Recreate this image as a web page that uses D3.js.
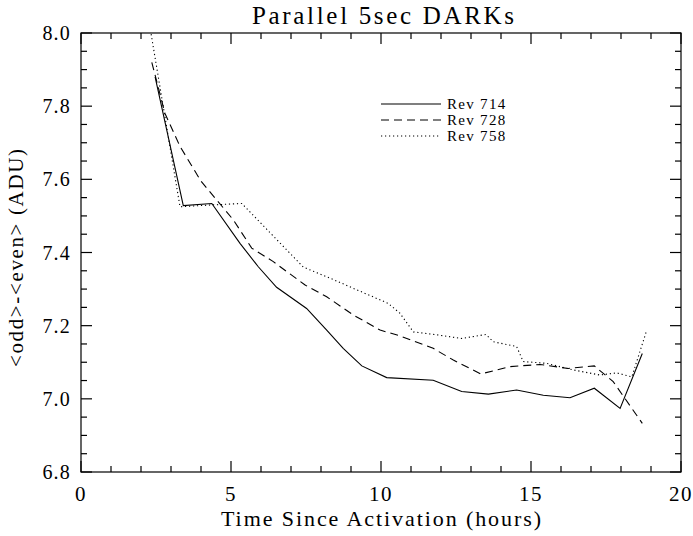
<!DOCTYPE html>
<html>
<head>
<meta charset="utf-8">
<script src="https://cdn.jsdelivr.net/npm/d3@7"></script>
<style>
  body { margin: 0; background: #fff; }
  svg { display: block; }
  text { font-family: "Liberation Serif", serif; fill: #000; }
</style>
</head>
<body>
<svg id="chart"></svg>
<script>
// hours since activation, <odd>-<even> in ADU
const rev714 = [
  [2.47, 7.88], [3.41, 7.528], [4.36, 7.534], [5.3, 7.425], [5.91, 7.361],
  [6.52, 7.305], [7.52, 7.247], [8.19, 7.188], [8.74, 7.138], [9.36, 7.09],
  [10.19, 7.058], [11.74, 7.051], [12.69, 7.02], [13.58, 7.013], [14.52, 7.024],
  [15.41, 7.01], [16.3, 7.003], [17.11, 7.029], [17.97, 6.974], [18.71, 7.124]
];
const rev728 = [
  [2.36, 7.92], [2.8, 7.78], [3.3, 7.69], [4.0, 7.595], [5.08, 7.489],
  [5.69, 7.412], [6.41, 7.375], [7.47, 7.311], [8.19, 7.279], [9.08, 7.229],
  [9.97, 7.188], [10.63, 7.172], [11.74, 7.138], [12.41, 7.106], [13.33, 7.068],
  [14.3, 7.088], [15.3, 7.094], [16.24, 7.083], [17.11, 7.09], [17.74, 7.047],
  [18.71, 6.933]
];
const rev758 = [
  [2.25, 8.04], [3.3, 7.525], [4.36, 7.53], [5.36, 7.534], [7.41, 7.36],
  [8.3, 7.33], [9.19, 7.298], [10.24, 7.261], [10.63, 7.234], [11.08, 7.183],
  [11.86, 7.175], [12.69, 7.165], [13.5, 7.176], [13.74, 7.156], [14.52, 7.143],
  [14.74, 7.102], [15.52, 7.097], [16.41, 7.079], [17.3, 7.065], [17.86, 7.071],
  [18.36, 7.06], [18.86, 7.188]
];
const seriesNames = ['Rev 714', 'Rev 728', 'Rev 758'];
const xTickLabels = [0, 5, 10, 15, 20];
const yTickLabels = [6.8, 7.0, 7.2, 7.4, 7.6, 7.8, 8.0];

const width = 693, height = 536;
const margin = {left: 81, right: 681, top: 33, bottom: 472};
const majorLen = 11, minorLen = 6;

const svg = d3.select('#chart').attr('width', width).attr('height', height);

const x = d3.scaleLinear().domain([0, 20]).range([margin.left, margin.right]);
const y = d3.scaleLinear().domain([6.8, 8.0]).range([margin.bottom, margin.top]);

svg.append('defs').append('clipPath').attr('id', 'plotclip')
  .append('rect')
  .attr('x', margin.left).attr('y', margin.top)
  .attr('width', margin.right - margin.left).attr('height', margin.bottom - margin.top);

// frame
svg.append('rect')
  .attr('x', margin.left).attr('y', margin.top)
  .attr('width', margin.right - margin.left).attr('height', margin.bottom - margin.top)
  .attr('fill', 'none').attr('stroke', '#000').attr('stroke-width', 1.2);

// ticks on all four sides, pointing in
const xMinor = d3.range(0, 21, 1);
const yMinor = d3.range(0, 25).map((i) => 6.8 + i * 0.05);

const ticks = svg.append('g').attr('stroke', '#000').attr('stroke-width', 1.2);
xMinor.forEach((t) => {
  const len = t % 5 === 0 ? majorLen : minorLen;
  ticks.append('line').attr('x1', x(t)).attr('x2', x(t))
    .attr('y1', margin.bottom).attr('y2', margin.bottom - len);
  ticks.append('line').attr('x1', x(t)).attr('x2', x(t))
    .attr('y1', margin.top).attr('y2', margin.top + len);
});
yMinor.forEach((v, i) => {
  const len = i % 4 === 0 ? majorLen : minorLen;
  ticks.append('line').attr('x1', margin.left).attr('x2', margin.left + len)
    .attr('y1', y(v)).attr('y2', y(v));
  ticks.append('line').attr('x1', margin.right).attr('x2', margin.right - len)
    .attr('y1', y(v)).attr('y2', y(v));
});

// tick labels
svg.append('g').selectAll('text')
  .data(xTickLabels)
  .enter()
  .append('text')
  .attr('x', (d) => x(d))
  .attr('y', 501)
  .attr('text-anchor', 'middle')
  .attr('font-size', 21)
  .style('letter-spacing', '1.5px')
  .text((d) => d);

svg.append('g').selectAll('text')
  .data(yTickLabels)
  .enter()
  .append('text')
  .attr('x', 71)
  .attr('y', (d) => y(d) + 7)
  .attr('text-anchor', 'end')
  .attr('font-size', 20)
  .style('letter-spacing', '1.2px')
  .text((d) => d.toFixed(1));

// titles
svg.append('text')
  .attr('x', 383).attr('y', 24)
  .attr('text-anchor', 'middle')
  .attr('font-size', 25)
  .attr('textLength', 262).attr('lengthAdjust', 'spacing')
  .text('Parallel 5sec DARKs');

svg.append('text')
  .attr('x', 381).attr('y', 526)
  .attr('text-anchor', 'middle')
  .attr('font-size', 22)
  .attr('textLength', 320).attr('lengthAdjust', 'spacing')
  .text('Time Since Activation (hours)');

svg.append('text')
  .attr('transform', 'translate(23,258) rotate(-90)')
  .attr('text-anchor', 'middle')
  .attr('font-size', 21)
  .attr('textLength', 218).attr('lengthAdjust', 'spacing')
  .text('<odd>-<even> (ADU)');

// lines
const dashes = [null, '8,5', '1.2,2.8'];
const line = d3.line().x((d) => x(d[0])).y((d) => y(d[1]));

svg.append('g').attr('clip-path', 'url(#plotclip)')
  .selectAll('path')
  .data([rev714, rev728, rev758])
  .enter()
  .append('path')
  .attr('d', line)
  .attr('fill', 'none')
  .attr('stroke', '#000')
  .attr('stroke-width', 1.1)
  .attr('stroke-dasharray', (d, i) => dashes[i]);

// legend
const legend = svg.append('g').attr('transform', 'translate(381,104)');
legend.selectAll('line')
  .data(seriesNames)
  .enter()
  .append('line')
  .attr('x1', 0).attr('x2', 60)
  .attr('y1', (d, i) => i * 16).attr('y2', (d, i) => i * 16)
  .attr('stroke', '#000')
  .attr('stroke-width', 1.1)
  .attr('stroke-dasharray', (d, i) => dashes[i]);
legend.selectAll('text')
  .data(seriesNames)
  .enter()
  .append('text')
  .attr('x', 66)
  .attr('y', (d, i) => i * 16 + 5)
  .attr('font-size', 15)
  .style('letter-spacing', '1.3px')
  .text((d) => d);
</script>
</body>
</html>
